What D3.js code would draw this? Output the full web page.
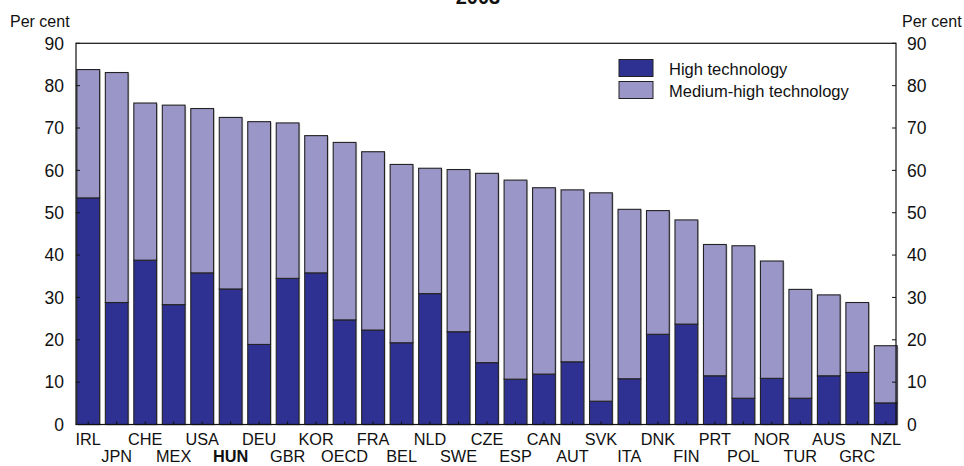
<!DOCTYPE html>
<html><head><meta charset="utf-8">
<script src="https://cdn.jsdelivr.net/npm/d3@7"></script>
<style>body{margin:0;background:#fff}svg{display:block;font-family:"Liberation Sans",Arial,sans-serif}</style>
</head><body>
<svg id="c" width="964" height="466"></svg>
<script>
const countries = ["IRL","JPN","CHE","MEX","USA","HUN","DEU","GBR","KOR","OECD","FRA","BEL","NLD","SWE","CZE","ESP","CAN","AUT","SVK","ITA","DNK","FIN","PRT","POL","NOR","TUR","AUS","GRC","NZL"];
const highTech = [53.5,28.8,38.8,28.3,35.8,32.0,18.9,34.5,35.8,24.7,22.3,19.3,30.9,21.9,14.6,10.7,11.9,14.8,5.5,10.8,21.3,23.7,11.5,6.2,10.9,6.2,11.5,12.3,5.1];
const mediumHighTech = [30.3,54.3,37.1,47.1,38.8,40.5,52.6,36.7,32.4,41.9,42.1,42.1,29.6,38.3,44.7,47.0,44.0,40.6,49.2,40.0,29.2,24.6,31.0,36.0,27.7,25.7,19.1,16.5,13.5];
const yTicks = [0,10,20,30,40,50,60,70,80,90];
const seriesNames = ["High technology","Medium-high technology"];
const seriesColors = ["#2e3192","#9b96c8"];
const title = "2003";
const unitLabel = "Per cent";
const highlight = "HUN";

const svg = d3.select("#c");
const L = 76, R = 896, T = 43.3, B = 424.5;
const x = d3.scaleBand().domain(countries).range([L, R + 2]).paddingInner(0.2).paddingOuter(0.03);
const y = d3.scaleLinear().domain([0, 90]).range([B, T]);

const data = countries.map((c, i) => ({c, h: highTech[i], m: mediumHighTech[i]}));
const stack = d3.stack().keys(["h","m"])(data);

const g = svg.append("g");
stack.forEach((layer, li) => {
  g.append("g").selectAll("rect.sh").data(layer).join("rect")
    .attr("x", d => x(d.data.c) + 1.2)
    .attr("y", d => y(d[1]) + 1)
    .attr("width", x.bandwidth())
    .attr("height", d => y(d[0]) - y(d[1]))
    .attr("fill", "#c8c8c8");
});
stack.forEach((layer, li) => {
  g.append("g").selectAll("rect").data(layer).join("rect")
    .attr("x", d => x(d.data.c))
    .attr("y", d => y(d[1]))
    .attr("width", x.bandwidth())
    .attr("height", d => y(d[0]) - y(d[1]))
    .attr("fill", seriesColors[li])
    .attr("stroke", "#222")
    .attr("stroke-width", 1.1);
});

// frame
svg.append("rect").attr("x", L).attr("y", T).attr("width", R - L).attr("height", B - T)
  .attr("fill", "none").attr("stroke", "#111").attr("stroke-width", 1.2);

// y ticks + labels
const yl = svg.append("g").attr("font-size", 17.5).attr("fill", "#111");
yTicks.forEach(t => {
  svg.append("line").attr("x1", L).attr("x2", L + 4).attr("y1", y(t)).attr("y2", y(t)).attr("stroke", "#111");
  svg.append("line").attr("x1", R - 4).attr("x2", R).attr("y1", y(t)).attr("y2", y(t)).attr("stroke", "#111");
  yl.append("text").attr("x", 64).attr("y", y(t) + 6.3).attr("text-anchor", "end").text(t);
  yl.append("text").attr("x", 907).attr("y", y(t) + 6.3).attr("text-anchor", "start").text(t);
});

// x ticks + labels
const xl = svg.append("g").attr("font-size", 16.3).attr("fill", "#111");
countries.forEach((c, i) => {
  const cx = x(c) + x.bandwidth() / 2;
  svg.append("line").attr("x1", cx).attr("x2", cx).attr("y1", B).attr("y2", B - 3).attr("stroke", "#111");
  xl.append("text").attr("x", cx).attr("y", i % 2 === 0 ? 445 : 462.3)
    .attr("text-anchor", "middle")
    .attr("font-weight", c === highlight ? "bold" : "normal")
    .text(c);
});

// unit labels
svg.append("text").attr("x", 10).attr("y", 26.5).attr("font-size", 16).attr("fill", "#111").text(unitLabel);
svg.append("text").attr("x", 902).attr("y", 26.5).attr("font-size", 16).attr("fill", "#111").text(unitLabel);

// title
svg.append("text").attr("x", 478).attr("y", 4).attr("text-anchor", "middle").attr("font-size", 20)
  .attr("font-weight", "bold").attr("fill", "#111").text(title);

// legend
const lg = svg.append("g");
seriesNames.forEach((n, i) => {
  lg.append("rect").attr("x", 619).attr("y", 59.5 + i * 22).attr("width", 34).attr("height", 17)
    .attr("fill", seriesColors[i]).attr("stroke", "#222").attr("stroke-width", 1);
  lg.append("text").attr("x", 669).attr("y", 75 + i * 22).attr("font-size", 16.5).attr("fill", "#111").text(n);
});
</script>
</body></html>
